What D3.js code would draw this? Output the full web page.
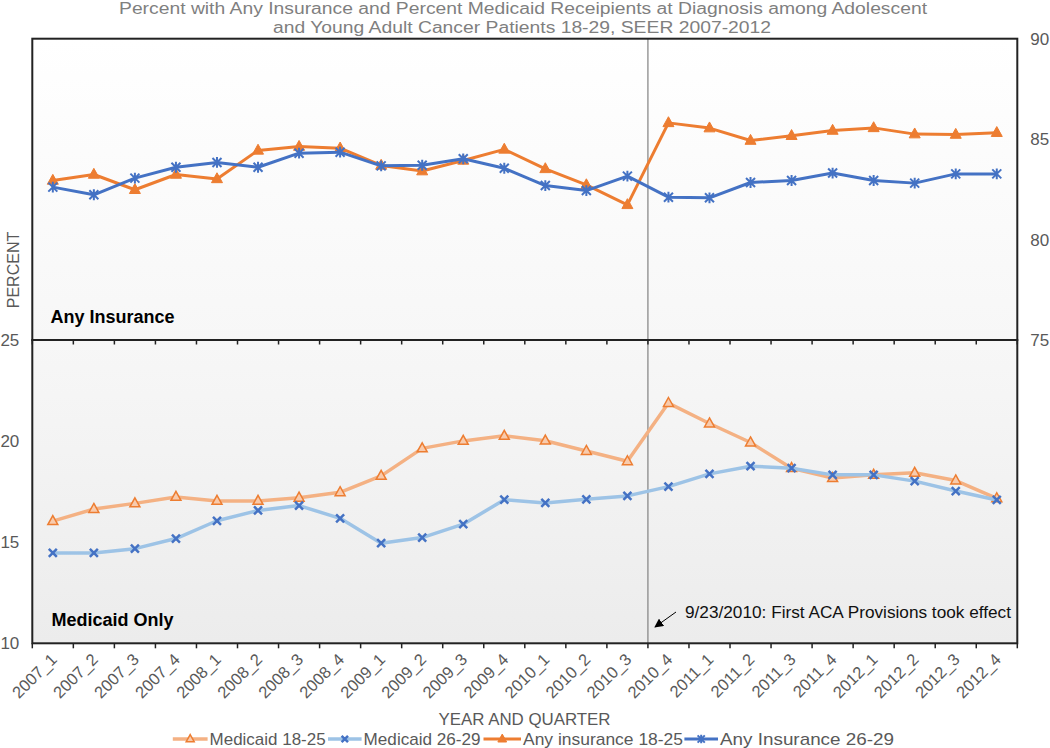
<!DOCTYPE html>
<html>
<head>
<meta charset="utf-8">
<script src="https://cdn.jsdelivr.net/npm/d3@7"></script>
<style>
  html, body { margin: 0; padding: 0; background: #fff; }
  svg { display: block; font-family: "Liberation Sans", Arial, sans-serif; }
</style>
</head>
<body>
<svg id="chart" width="1050" height="748"></svg>
<script>
// ---------- data ----------
const categories = ["2007_1","2007_2","2007_3","2007_4","2008_1","2008_2","2008_3","2008_4",
  "2009_1","2009_2","2009_3","2009_4","2010_1","2010_2","2010_3","2010_4",
  "2011_1","2011_2","2011_3","2011_4","2012_1","2012_2","2012_3","2012_4"];

const medicaid1825 = [16.04,16.64,16.92,17.24,17.04,17.04,17.20,17.47,18.28,19.64,20.01,20.26,
  20.02,19.51,19.00,21.88,20.87,19.93,18.66,18.17,18.33,18.43,18.05,17.17];
const medicaid2629 = [14.47,14.47,14.68,15.18,16.06,16.57,16.81,16.18,14.95,15.23,15.89,17.10,
  16.94,17.12,17.29,17.75,18.38,18.76,18.66,18.33,18.33,18.02,17.53,17.09];
const anyIns1825 = [82.94,83.24,82.48,83.24,83.02,84.44,84.63,84.55,83.69,83.41,83.94,84.49,
  83.52,82.72,81.73,85.81,85.55,84.93,85.17,85.43,85.56,85.25,85.23,85.32];
const anyIns2629 = [82.61,82.23,83.06,83.60,83.84,83.60,84.30,84.35,83.67,83.70,84.02,83.55,
  82.69,82.44,83.16,82.11,82.08,82.84,82.94,83.31,82.94,82.81,83.27,83.27];

const topTicks = [75, 80, 85, 90];
const bottomTicks = [10, 15, 20, 25];
const seriesNames = ["Medicaid 18-25", "Medicaid 26-29", "Any insurance 18-25", "Any Insurance 26-29"];
const titleLines = ["Percent with Any Insurance and Percent Medicaid Receipients at Diagnosis among Adolescent",
  "and Young Adult Cancer Patients 18-29, SEER 2007-2012"];
const acaCategory = "2010_4";
const acaNote = "9/23/2010: First ACA Provisions took effect";

// ---------- layout ----------
const svg = d3.select("#chart");
const L = 32.3, R = 1017.3, T = 38.7, MID = 340, B = 643.3;

const x = d3.scaleBand().domain(categories).range([L, R]).padding(0);
const cx = c => x(c) + x.bandwidth() / 2;
const yTop = d3.scaleLinear().domain([75, 90]).range([MID, T]);
const yBot = d3.scaleLinear().domain([10, 25]).range([B, MID]);

const defs = svg.append("defs");
const g1 = defs.append("linearGradient").attr("id", "gTop").attr("x1", 0).attr("y1", 0).attr("x2", 0).attr("y2", 1);
g1.append("stop").attr("offset", "0%").attr("stop-color", "#ffffff");
g1.append("stop").attr("offset", "100%").attr("stop-color", "#f7f7f7");
const g2 = defs.append("linearGradient").attr("id", "gBot").attr("x1", 0).attr("y1", 0).attr("x2", 0).attr("y2", 1);
g2.append("stop").attr("offset", "0%").attr("stop-color", "#f7f7f7");
g2.append("stop").attr("offset", "100%").attr("stop-color", "#ececec");

svg.append("rect").attr("x", L).attr("y", T).attr("width", R - L).attr("height", MID - T).attr("fill", "url(#gTop)");
svg.append("rect").attr("x", L).attr("y", MID).attr("width", R - L).attr("height", B - MID).attr("fill", "url(#gBot)");

// title
const titleG = svg.append("g").attr("fill", "#7f7f7f").attr("font-size", 16);
titleG.append("text").attr("x", 523).attr("y", 13.5).attr("text-anchor", "middle")
  .attr("textLength", 808).attr("lengthAdjust", "spacingAndGlyphs").text(titleLines[0]);
titleG.append("text").attr("x", 522).attr("y", 33).attr("text-anchor", "middle")
  .attr("textLength", 498).attr("lengthAdjust", "spacingAndGlyphs").text(titleLines[1]);

// ACA vertical line
svg.append("line").attr("x1", x(acaCategory)).attr("x2", x(acaCategory))
  .attr("y1", T).attr("y2", B).attr("stroke", "#808080").attr("stroke-width", 1.2);

// x ticks (band boundaries)
const boundaries = categories.map(c => x(c)).concat([R]);
svg.append("g").selectAll("line").data(boundaries).join("line")
  .attr("x1", d => d).attr("x2", d => d).attr("y1", MID).attr("y2", MID + 4.5)
  .attr("stroke", "#222").attr("stroke-width", 1.5);
svg.append("g").selectAll("line").data(boundaries).join("line")
  .attr("x1", d => d).attr("x2", d => d).attr("y1", B).attr("y2", B + 5)
  .attr("stroke", "#222").attr("stroke-width", 1.5);

// frames
svg.append("rect").attr("x", L).attr("y", T).attr("width", R - L).attr("height", MID - T)
  .attr("fill", "none").attr("stroke", "#222").attr("stroke-width", 2);
svg.append("rect").attr("x", L).attr("y", MID).attr("width", R - L).attr("height", B - MID)
  .attr("fill", "none").attr("stroke", "#222").attr("stroke-width", 2);

// y axes
const axR = svg.append("g").attr("transform", `translate(${R},0)`)
  .call(d3.axisRight(yTop).tickValues(topTicks).tickSize(0).tickPadding(13));
axR.select(".domain").remove();
axR.selectAll("text").attr("fill", "#595959").attr("font-size", 17).attr("font-family", "Liberation Sans, Arial, sans-serif");

const axL = svg.append("g").attr("transform", `translate(${L},0)`)
  .call(d3.axisLeft(yBot).tickValues(bottomTicks).tickSize(0).tickPadding(13));
axL.select(".domain").remove();
axL.selectAll("text").attr("fill", "#595959").attr("font-size", 17).attr("font-family", "Liberation Sans, Arial, sans-serif");

// x labels
svg.append("g").selectAll("text").data(categories).join("text")
  .attr("transform", d => `translate(${cx(d) + 1},${B + 13}) rotate(-45)`)
  .attr("text-anchor", "end").attr("dy", "0.35em")
  .attr("fill", "#595959").attr("font-size", 16.5).text(d => d);

// axis titles
svg.append("text").attr("transform", "translate(19,270) rotate(-90)").attr("text-anchor", "middle")
  .attr("fill", "#595959").attr("font-size", 16).text("PERCENT");
svg.append("text").attr("x", 524.5).attr("y", 725).attr("text-anchor", "middle")
  .attr("fill", "#595959").attr("font-size", 16).attr("textLength", 172).attr("lengthAdjust", "spacingAndGlyphs")
  .text("YEAR AND QUARTER");

// panel labels
svg.append("text").attr("x", 50.4).attr("y", 323).attr("font-weight", "bold").attr("font-size", 18)
  .attr("fill", "#000").text("Any Insurance");
svg.append("text").attr("x", 51.4).attr("y", 625.5).attr("font-weight", "bold").attr("font-size", 18)
  .attr("fill", "#000").text("Medicaid Only");

// annotation
defs.append("marker").attr("id", "arrow").attr("viewBox", "0 0 10 10").attr("refX", 9).attr("refY", 5)
  .attr("markerWidth", 9).attr("markerHeight", 9).attr("orient", "auto-start-reverse")
  .append("path").attr("d", "M0,0 L10,5 L0,10 z").attr("fill", "#000");
svg.append("line").attr("x1", 676).attr("y1", 612).attr("x2", 655).attr("y2", 627)
  .attr("stroke", "#000").attr("stroke-width", 1).attr("marker-end", "url(#arrow)");
svg.append("text").attr("x", 685).attr("y", 617.5).attr("font-size", 17).attr("fill", "#111")
  .attr("textLength", 326).attr("lengthAdjust", "spacingAndGlyphs").text(acaNote);

// ---------- markers ----------
function triangle(sel, px, py, s, fill, stroke, sw) {
  const h = s * 0.9;
  sel.append("path").attr("d", `M${px},${py - h * 0.62} L${px + s / 2},${py + h * 0.38} L${px - s / 2},${py + h * 0.38} Z`)
    .attr("fill", fill).attr("stroke", stroke).attr("stroke-width", sw);
}
function cross(sel, px, py, s, stroke, sw) {
  const r = s / 2;
  sel.append("path").attr("d", `M${px - r},${py - r} L${px + r},${py + r} M${px - r},${py + r} L${px + r},${py - r}`)
    .attr("stroke", stroke).attr("stroke-width", sw).attr("fill", "none");
}
function star(sel, px, py, s, stroke, sw) {
  const r = s / 2;
  sel.append("path").attr("d", `M${px - r},${py - r} L${px + r},${py + r} M${px - r},${py + r} L${px + r},${py - r} M${px},${py - r * 1.2} L${px},${py + r * 1.2}`)
    .attr("stroke", stroke).attr("stroke-width", sw).attr("fill", "none");
}

const styles = [
  { name: seriesNames[0], data: medicaid1825, y: yBot, line: "#F4B183", lw: 3.5,
    mark: (s, px, py, k = 1) => triangle(s, px, py, 10 * k, "#F8CBAD", "#ED7D31", 1.5) },
  { name: seriesNames[1], data: medicaid2629, y: yBot, line: "#9DC3E6", lw: 3.5,
    mark: (s, px, py, k = 1) => cross(s, px, py, 8 * k, "#4472C4", 2.5) },
  { name: seriesNames[2], data: anyIns1825, y: yTop, line: "#ED7D31", lw: 3,
    mark: (s, px, py, k = 1) => triangle(s, px, py, 11 * k, "#ED7D31", "#ED7D31", 1) },
  { name: seriesNames[3], data: anyIns2629, y: yTop, line: "#4472C4", lw: 3,
    mark: (s, px, py, k = 1) => star(s, px, py, 9 * k, "#4472C4", 2) }
];

styles.forEach(st => {
  const g = svg.append("g");
  const ln = d3.line().x((d, i) => cx(categories[i])).y(d => st.y(d));
  g.append("path").datum(st.data).attr("d", ln).attr("fill", "none")
    .attr("stroke", st.line).attr("stroke-width", st.lw).attr("stroke-linejoin", "round");
  st.data.forEach((v, i) => st.mark(g, cx(categories[i]), st.y(v)));
});

// ---------- legend ----------
const legendPos = [[172.8, 209.6], [328, 363.6], [483.5, 523], [684.4, 720]];
const legendLen = [116, 117, 160, 174];
const LY = 739;
styles.forEach((st, i) => {
  const g = svg.append("g");
  const [x0, tx] = legendPos[i];
  const x1 = tx - 2;
  g.append("line").attr("x1", x0).attr("x2", x1).attr("y1", LY).attr("y2", LY)
    .attr("stroke", st.line).attr("stroke-width", st.lw);
  st.mark(g, (x0 + x1) / 2, LY, 0.8);
  g.append("text").attr("x", tx).attr("y", LY).attr("dy", "0.35em").attr("font-size", 17)
    .attr("fill", "#595959").attr("textLength", legendLen[i]).attr("lengthAdjust", "spacingAndGlyphs")
    .text(st.name);
});
</script>
</body>
</html>
